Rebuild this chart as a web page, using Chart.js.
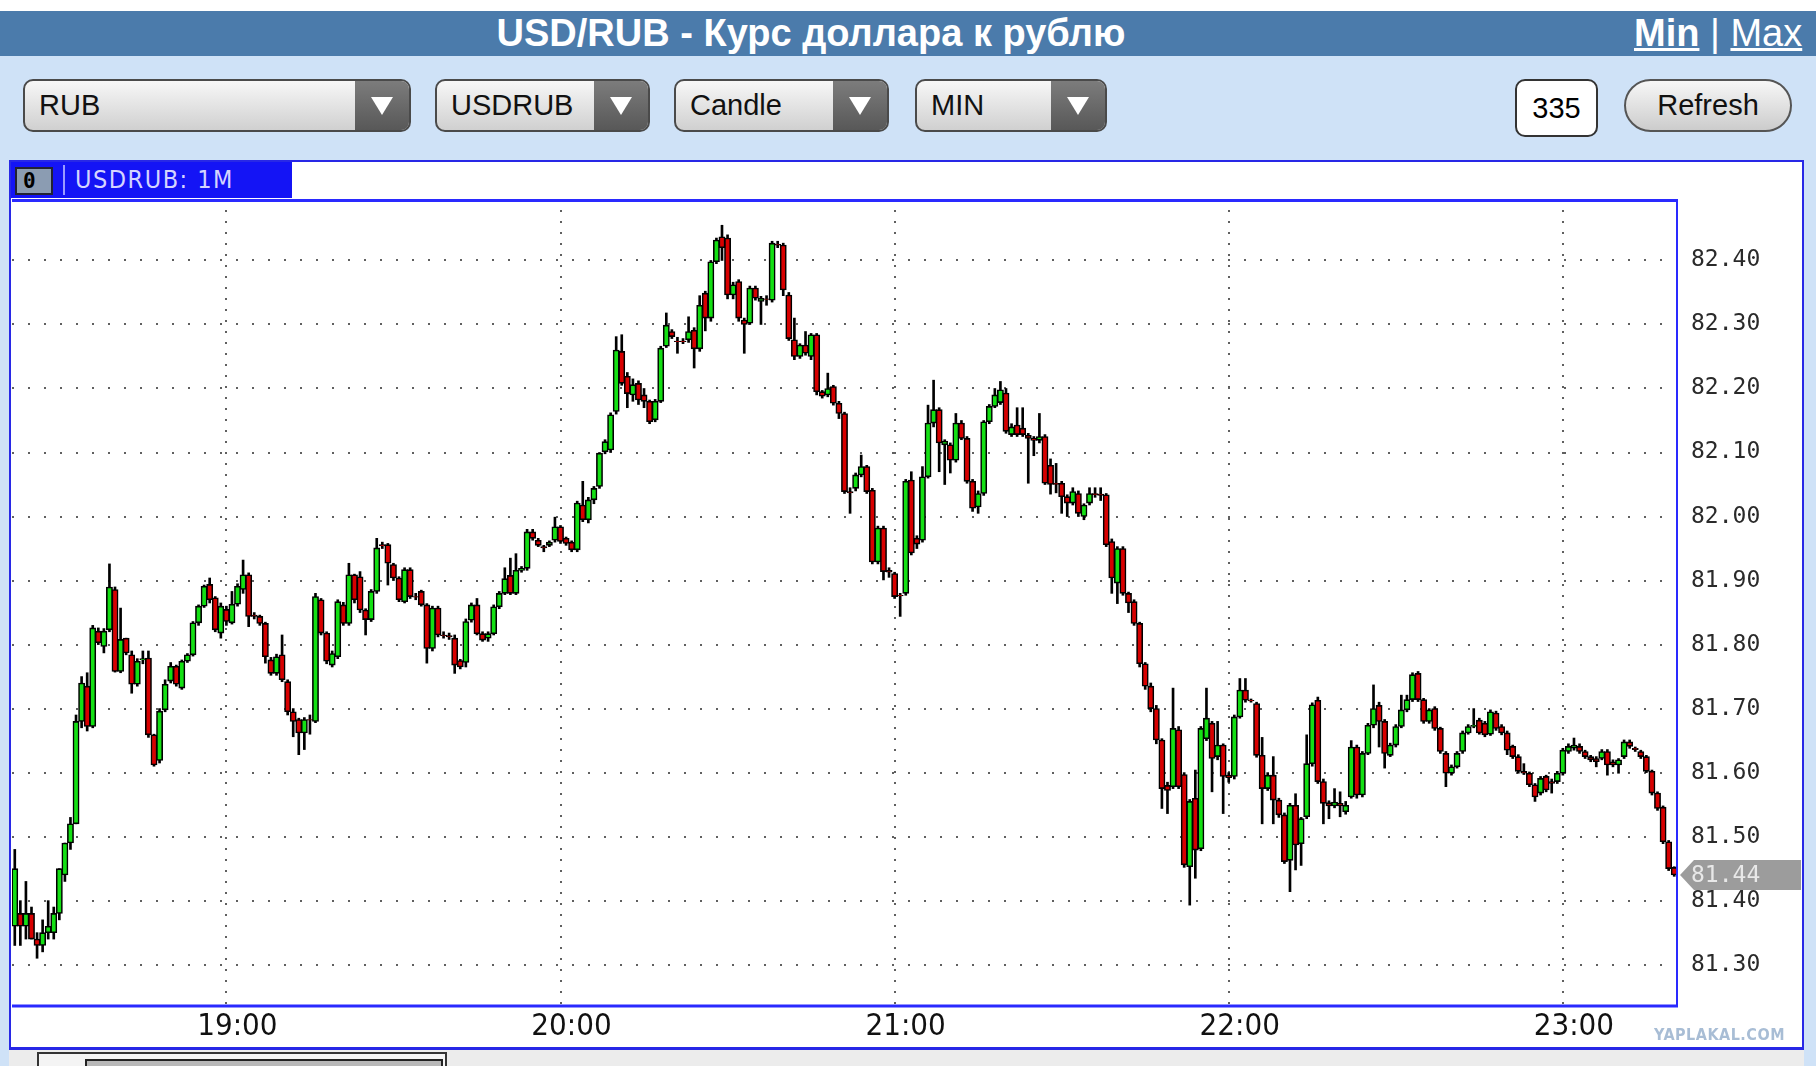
<!DOCTYPE html>
<html>
<head>
<meta charset="utf-8">
<title>USD/RUB</title>
<script src="https://cdn.jsdelivr.net/npm/chart.js@4.4.1/dist/chart.umd.min.js"></script>
<style>
  html, body { margin: 0; padding: 0; }
  body { width: 1816px; height: 1066px; background: #cfe2f7; position: relative; overflow: hidden;
         font-family: "Liberation Sans", Arial, sans-serif; }
  #topstrip { position: absolute; left: 0; top: 0; width: 1816px; height: 11px; background: #fff; }
  #titlebar { position: absolute; left: 0; top: 11px; width: 1816px; height: 45px; background: #4b7bab; }
  #title { position: absolute; left: 0; top: 0; width: 1622px; line-height: 45px; text-align: center;
           color: #fff; font-weight: bold; font-size: 38px; }
  #minmax { position: absolute; left: 1634px; top: 0; line-height: 45px; color: #fff; font-size: 38px; }
  #minmax span { text-decoration: underline; }
  .dd { position: absolute; top: 79px; height: 53px; box-sizing: border-box; border: 2px solid #4a4a4a;
        border-radius: 10px; background: linear-gradient(#f7f7f7, #d0d0d0); overflow: hidden; }
  .dd span { position: absolute; left: 14px; top: 0; line-height: 49px; font-size: 29px; color: #111; }
  .dd i { position: absolute; right: 0; top: 0; width: 54px; height: 100%; background: linear-gradient(#7c7c7c, #585858); }
  .dd i:after { content: ''; position: absolute; left: 16px; top: 16px; border-left: 11px solid transparent;
                border-right: 11px solid transparent; border-top: 18px solid #fff; }
  #count { position: absolute; left: 1515px; top: 79px; width: 83px; height: 58px; box-sizing: border-box;
           border: 2px solid #333; border-radius: 10px; background: #fff; text-align: center; line-height: 54px; font-size: 29px; }
  #refresh { position: absolute; left: 1624px; top: 79px; width: 168px; height: 53px; box-sizing: border-box;
             border: 2px solid #555; border-radius: 27px; background: linear-gradient(#f7f7f7, #cccccc);
             text-align: center; line-height: 49px; font-size: 29px; color: #111; }
  #panel { position: absolute; left: 9px; top: 160px; width: 1795px; height: 890px; box-sizing: border-box;
           border: 2px solid #2828e6; border-bottom-width: 3px; background: #fff; }
  #tab { position: absolute; left: 11px; top: 162px; width: 281px; height: 36px; background: #1414f5; }
  #tab .ico { position: absolute; left: 4px; top: 5px; width: 38px; height: 28px; box-sizing: border-box;
              background: #8b9cb2; border: 2px solid #223; font: bold 21px "DejaVu Sans Mono", monospace;
              line-height: 24px; padding-left: 6px; color: #000; }
  #tab .sep { position: absolute; left: 52px; top: 3px; width: 2px; height: 30px; background: #9a9aff; }
  #tab .lbl { position: absolute; left: 64px; top: 0; line-height: 36px; font-size: 25px; color: #d4d4ff;
              font-family: "DejaVu Sans Condensed", sans-serif; letter-spacing: 1.5px; }
  #chart { position: absolute; left: 12px; top: 199px; }
  #scrollzone { position: absolute; left: 9px; top: 1050px; width: 1795px; height: 16px; background: #ececec; }
  #thumb { position: absolute; left: 37px; top: 1052px; width: 410px; height: 20px; box-sizing: border-box;
           border: 2px solid #333; border-bottom: none; background: #f4f4f4; }
  #thumb div { position: absolute; left: 46px; top: 5px; width: 358px; height: 20px; box-sizing: border-box;
               background: #b8b8b8; border: 2px solid #222; }
  #wm { position: absolute; left: 1654px; top: 1025px; font: bold 16px "DejaVu Sans Condensed", sans-serif;
        color: #a8bdd5; letter-spacing: 0.5px; }
</style>
</head>
<body>
<div id="topstrip"></div>
<div id="titlebar">
  <div id="title">USD/RUB - Курс доллара к рублю</div>
  <div id="minmax"><span style="font-weight:bold">Min</span> | <span>Max</span></div>
</div>
<div class="dd" style="left:23px;width:388px"><span>RUB</span><i></i></div>
<div class="dd" style="left:435px;width:215px"><span>USDRUB</span><i></i></div>
<div class="dd" style="left:674px;width:215px"><span>Candle</span><i></i></div>
<div class="dd" style="left:915px;width:192px"><span>MIN</span><i></i></div>
<div id="count">335</div>
<div id="refresh">Refresh</div>
<div id="panel"></div>
<div id="tab"><div class="ico">0</div><div class="sep"></div><div class="lbl">USDRUB: 1M</div></div>
<canvas id="chart" width="1792" height="843"></canvas>
<div id="scrollzone"></div>
<div id="thumb"><div></div></div>
<div id="wm">YAPLAKAL.COM</div>

<script>
// one-minute candles, 18:22 .. 23:20
const startMinute = 18 * 60 + 22;

const open = [
  81.36, 81.38, 81.36, 81.38, 81.34, 81.33, 81.35, 81.35, 81.38, 81.44,
  81.49, 81.52, 81.68, 81.735, 81.672, 81.821, 81.797, 81.823, 81.886, 81.758,
  81.81, 81.784, 81.738, 81.776, 81.779, 81.659, 81.619, 81.698, 81.743, 81.766,
  81.732, 81.774, 81.784, 81.834, 81.86, 81.894, 81.873, 81.818, 81.855, 81.834,
  81.863, 81.886, 81.909, 81.846, 81.844, 81.833, 81.776, 81.755, 81.784, 81.742,
  81.695, 81.683, 81.662, 81.683, 81.68, 81.87, 81.818, 81.768, 81.781, 81.862,
  81.833, 81.909, 81.906, 81.854, 81.839, 81.883, 81.956, 81.956, 81.925, 81.904,
  81.867, 81.917, 81.875, 81.883, 81.862, 81.794, 81.857, 81.815, 81.814, 81.81,
  81.775, 81.772, 81.838, 81.862, 81.817, 81.81, 81.817, 81.859, 81.88, 81.908,
  81.88, 81.916, 81.919, 81.976, 81.963, 81.953, 81.955, 81.963, 81.984, 81.966,
  81.96, 81.948, 82.018, 81.995, 82.026, 82.047, 82.101, 82.104, 82.164, 82.258,
  82.219, 82.19, 82.208, 82.19, 82.18, 82.151, 82.18, 82.266, 82.289, 82.274,
  82.274, 82.276, 82.291, 82.262, 82.349, 82.31, 82.398, 82.437, 82.435, 82.346,
  82.367, 82.307, 82.302, 82.357, 82.336, 82.34, 82.338, 82.425, 82.424, 82.346,
  82.276, 82.25, 82.268, 82.25, 82.284, 82.195, 82.19, 82.203, 82.177, 82.161,
  82.039, 82.044, 82.065, 82.078, 82.041, 81.929, 81.982, 81.916, 81.911, 81.877,
  81.88, 82.057, 81.966, 81.963, 82.062, 82.146, 82.167, 82.112, 82.112, 82.088,
  82.146, 82.122, 82.055, 82.015, 82.036, 82.148, 82.172, 82.178, 82.193, 82.128,
  82.143, 82.138, 82.127, 82.122, 82.119, 82.125, 82.08, 82.052, 82.052, 82.031,
  82.021, 82.036, 82.0, 82.021, 82.036, 82.035, 82.034, 81.961, 81.896, 81.95,
  81.88, 81.867, 81.833, 81.77, 81.735, 81.70, 81.651, 81.58, 81.578, 81.667,
  81.597, 81.453, 81.56, 81.481, 81.653, 81.677, 81.625, 81.643, 81.596, 81.594,
  81.687, 81.729, 81.713, 81.708, 81.627, 81.575, 81.596, 81.557, 81.534, 81.463,
  81.549, 81.489, 81.531, 81.614, 81.713, 81.586, 81.553, 81.548, 81.552, 81.539,
  81.562, 81.64, 81.565, 81.63, 81.674, 81.705, 81.68, 81.627, 81.643, 81.672,
  81.698, 81.714, 81.755, 81.714, 81.68, 81.70, 81.669, 81.63, 81.599, 81.609,
  81.633, 81.662, 81.672, 81.682, 81.677, 81.66, 81.693, 81.672, 81.662, 81.641,
  81.625, 81.602, 81.599, 81.581, 81.568, 81.594, 81.586, 81.586, 81.599, 81.633,
  81.638, 81.641, 81.633, 81.625, 81.622, 81.622, 81.633, 81.617, 81.612, 81.625,
  81.648, 81.638, 81.633, 81.625, 81.602, 81.568, 81.546, 81.492, 81.452
];

const high = [
  81.48, 81.40, 81.43, 81.39, 81.35, 81.37, 81.40, 81.39, 81.45, 81.49,
  81.53, 81.69, 81.75, 81.756, 81.83, 81.826, 81.825, 81.926, 81.89, 81.857,
  81.81, 81.79, 81.778, 81.79, 81.79, 81.66, 81.70, 81.745, 81.772, 81.768,
  81.776, 81.786, 81.836, 81.862, 81.893, 81.904, 81.875, 81.865, 81.86, 81.883,
  81.895, 81.932, 81.912, 81.85, 81.846, 81.835, 81.78, 81.785, 81.815, 81.745,
  81.70, 81.685, 81.686, 81.69, 81.88, 81.872, 81.82, 81.79, 81.87, 81.866,
  81.927, 81.91, 81.914, 81.856, 81.886, 81.966, 81.96, 81.958, 81.927, 81.906,
  81.92, 81.92, 81.88, 81.885, 81.864, 81.86, 81.86, 81.82, 81.818, 81.815,
  81.777, 81.84, 81.865, 81.872, 81.82, 81.82, 81.862, 81.883, 81.92, 81.935,
  81.942, 81.922, 81.98, 81.98, 81.966, 81.955, 81.962, 81.999, 81.986, 81.968,
  81.962, 82.024, 82.055, 82.03, 82.047, 82.10, 82.12, 82.162, 82.281, 82.284,
  82.225, 82.215, 82.212, 82.20, 82.182, 82.183, 82.266, 82.318, 82.292, 82.28,
  82.278, 82.312, 82.295, 82.345, 82.352, 82.40, 82.435, 82.455, 82.44, 82.366,
  82.37, 82.31, 82.36, 82.36, 82.344, 82.345, 82.43, 82.43, 82.427, 82.35,
  82.31, 82.27, 82.289, 82.286, 82.286, 82.197, 82.224, 82.205, 82.18, 82.163,
  82.045, 82.068, 82.096, 82.08, 82.044, 81.985, 81.985, 81.92, 81.913, 81.88,
  82.058, 82.07, 81.97, 82.078, 82.174, 82.213, 82.17, 82.12, 82.115, 82.161,
  82.15, 82.125, 82.058, 82.04, 82.15, 82.175, 82.20, 82.211, 82.20, 82.145,
  82.17, 82.17, 82.13, 82.125, 82.161, 82.128, 82.09, 82.083, 82.055, 82.034,
  82.045, 82.04, 82.02, 82.045, 82.045, 82.045, 82.036, 81.965, 81.953, 81.953,
  81.882, 81.87, 81.835, 81.772, 81.74, 81.705, 81.653, 81.585, 81.732, 81.672,
  81.60, 81.558, 81.604, 81.672, 81.732, 81.68, 81.68, 81.645, 81.60, 81.69,
  81.747, 81.747, 81.715, 81.71, 81.655, 81.60, 81.625, 81.56, 81.537, 81.552,
  81.567, 81.53, 81.659, 81.709, 81.718, 81.59, 81.556, 81.575, 81.57, 81.555,
  81.65, 81.643, 81.633, 81.677, 81.737, 81.71, 81.683, 81.646, 81.675, 81.721,
  81.721, 81.756, 81.758, 81.716, 81.70, 81.703, 81.671, 81.633, 81.612, 81.633,
  81.665, 81.675, 81.70, 81.685, 81.68, 81.698, 81.696, 81.675, 81.665, 81.643,
  81.628, 81.614, 81.601, 81.583, 81.594, 81.596, 81.59, 81.602, 81.638, 81.645,
  81.654, 81.645, 81.635, 81.627, 81.625, 81.636, 81.636, 81.62, 81.622, 81.651,
  81.651, 81.64, 81.635, 81.627, 81.604, 81.57, 81.548, 81.494, 81.453
];

const low = [
  81.33, 81.33, 81.34, 81.34, 81.31, 81.32, 81.34, 81.34, 81.37, 81.43,
  81.48, 81.52, 81.67, 81.665, 81.67, 81.80, 81.787, 81.82, 81.757, 81.756,
  81.784, 81.724, 81.735, 81.77, 81.655, 81.61, 81.615, 81.695, 81.74, 81.735,
  81.73, 81.772, 81.782, 81.83, 81.858, 81.865, 81.82, 81.81, 81.83, 81.832,
  81.86, 81.88, 81.828, 81.84, 81.83, 81.771, 81.752, 81.752, 81.742, 81.69,
  81.656, 81.628, 81.636, 81.66, 81.678, 81.815, 81.77, 81.765, 81.778, 81.83,
  81.83, 81.865, 81.85, 81.815, 81.836, 81.88, 81.95, 81.893, 81.90, 81.867,
  81.865, 81.872, 81.87, 81.86, 81.771, 81.79, 81.812, 81.81, 81.808, 81.755,
  81.762, 81.765, 81.835, 81.815, 81.805, 81.805, 81.815, 81.856, 81.878, 81.878,
  81.878, 81.913, 81.916, 81.963, 81.953, 81.945, 81.953, 81.96, 81.958, 81.955,
  81.945, 81.945, 81.992, 81.99, 82.02, 82.044, 82.098, 82.10, 82.16, 82.205,
  82.17, 82.18, 82.175, 82.17, 82.145, 82.148, 82.178, 82.264, 82.278, 82.255,
  82.27, 82.272, 82.232, 82.258, 82.29, 82.305, 82.395, 82.40, 82.34, 82.34,
  82.305, 82.255, 82.30, 82.338, 82.30, 82.33, 82.335, 82.42, 82.345, 82.275,
  82.245, 82.247, 82.252, 82.245, 82.19, 82.185, 82.187, 82.174, 82.153, 82.036,
  82.005, 82.04, 82.062, 82.036, 81.926, 81.926, 81.901, 81.905, 81.872, 81.844,
  81.877, 81.94, 81.95, 81.96, 82.06, 82.14, 82.07, 82.05, 82.068, 82.085,
  82.12, 82.052, 82.008, 82.005, 82.033, 82.145, 82.17, 82.175, 82.13, 82.125,
  82.125, 82.125, 82.052, 82.095, 82.115, 82.05, 82.035, 82.037, 82.005, 82.0,
  82.018, 82.0, 81.995, 82.018, 82.03, 82.025, 81.953, 81.88, 81.864, 81.877,
  81.85, 81.83, 81.765, 81.73, 81.695, 81.645, 81.544, 81.536, 81.575, 81.575,
  81.452, 81.393, 81.435, 81.478, 81.65, 81.57, 81.62, 81.536, 81.585, 81.59,
  81.685, 81.71, 81.71, 81.624, 81.52, 81.572, 81.52, 81.53, 81.458, 81.414,
  81.448, 81.455, 81.528, 81.61, 81.583, 81.52, 81.528, 81.545, 81.531, 81.535,
  81.56, 81.56, 81.562, 81.628, 81.67, 81.64, 81.607, 81.625, 81.64, 81.67,
  81.695, 81.711, 81.711, 81.677, 81.677, 81.666, 81.63, 81.578, 81.596, 81.607,
  81.63, 81.66, 81.67, 81.66, 81.656, 81.658, 81.666, 81.659, 81.628, 81.622,
  81.599, 81.597, 81.578, 81.555, 81.565, 81.57, 81.568, 81.583, 81.596, 81.63,
  81.635, 81.63, 81.622, 81.617, 81.609, 81.62, 81.596, 81.609, 81.599, 81.622,
  81.638, 81.633, 81.622, 81.60, 81.565, 81.541, 81.489, 81.447, 81.438
];

const close = [
  81.45, 81.36, 81.38, 81.34, 81.33, 81.35, 81.36, 81.38, 81.45, 81.49,
  81.52, 81.68, 81.74, 81.672, 81.826, 81.803, 81.821, 81.89, 81.758, 81.808,
  81.787, 81.738, 81.774, 81.778, 81.659, 81.612, 81.696, 81.738, 81.766, 81.738,
  81.774, 81.784, 81.834, 81.86, 81.891, 81.87, 81.823, 81.86, 81.836, 81.863,
  81.891, 81.909, 81.844, 81.844, 81.833, 81.781, 81.755, 81.781, 81.745, 81.695,
  81.68, 81.662, 81.683, 81.682, 81.875, 81.818, 81.774, 81.786, 81.867, 81.833,
  81.909, 81.87, 81.854, 81.839, 81.883, 81.951, 81.954, 81.927, 81.904, 81.87,
  81.917, 81.875, 81.874, 81.862, 81.794, 81.857, 81.815, 81.814, 81.812, 81.768,
  81.765, 81.836, 81.862, 81.817, 81.807, 81.817, 81.859, 81.88, 81.903, 81.88,
  81.916, 81.919, 81.976, 81.966, 81.955, 81.951, 81.96, 81.984, 81.961, 81.958,
  81.948, 82.021, 81.995, 82.026, 82.044, 82.099, 82.117, 82.159, 82.26, 82.208,
  82.192, 82.206, 82.182, 82.18, 82.148, 82.18, 82.263, 82.299, 82.281, 82.273,
  82.273, 82.289, 82.262, 82.33, 82.31, 82.398, 82.432, 82.42, 82.346, 82.362,
  82.31, 82.30, 82.357, 82.341, 82.341, 82.339, 82.427, 82.424, 82.354, 82.278,
  82.25, 82.268, 82.255, 82.284, 82.195, 82.188, 82.20, 82.177, 82.161, 82.039,
  82.037, 82.065, 82.078, 82.039, 81.929, 81.982, 81.914, 81.913, 81.875, 81.876,
  82.055, 81.943, 81.957, 82.062, 82.146, 82.167, 82.115, 82.118, 82.088, 82.146,
  82.122, 82.055, 82.013, 82.036, 82.148, 82.172, 82.19, 82.198, 82.133, 82.14,
  82.128, 82.128, 82.122, 82.119, 82.125, 82.052, 82.05, 82.05, 82.031, 82.021,
  82.039, 82.005, 82.018, 82.036, 82.034, 82.033, 81.956, 81.904, 81.95, 81.88,
  81.865, 81.833, 81.77, 81.735, 81.70, 81.651, 81.575, 81.572, 81.669, 81.578,
  81.456, 81.555, 81.479, 81.669, 81.685, 81.622, 81.643, 81.594, 81.592, 81.687,
  81.729, 81.713, 81.712, 81.627, 81.575, 81.596, 81.557, 81.534, 81.461, 81.549,
  81.487, 81.528, 81.614, 81.706, 81.586, 81.552, 81.548, 81.554, 81.548, 81.549,
  81.64, 81.565, 81.63, 81.674, 81.70, 81.68, 81.63, 81.643, 81.672, 81.698,
  81.714, 81.753, 81.714, 81.68, 81.698, 81.669, 81.633, 81.599, 81.609, 81.63,
  81.662, 81.672, 81.674, 81.662, 81.659, 81.695, 81.669, 81.662, 81.635, 81.625,
  81.602, 81.599, 81.581, 81.562, 81.591, 81.573, 81.583, 81.599, 81.635, 81.641,
  81.643, 81.633, 81.625, 81.62, 81.617, 81.633, 81.612, 81.612, 81.62, 81.648,
  81.641, 81.636, 81.625, 81.602, 81.568, 81.544, 81.492, 81.45, 81.44
];

const hourTicks = ['19:00', '20:00', '21:00', '22:00', '23:00'];
const priceTicks = [81.3, 81.4, 81.5, 81.6, 81.7, 81.8, 81.9, 82.0, 82.1, 82.2, 82.3, 82.4];
const yMin = 81.237, yMax = 82.496;

const pad2 = n => String(n).padStart(2, '0');
const times = open.map((_, i) => {
  const m = startMinute + i;
  return pad2(Math.floor(m / 60)) + ':' + pad2(m % 60);
});

const upColor = '#14e014', downColor = '#d80000';
const monoFont = "'DejaVu Sans Mono', 'Liberation Mono', monospace";

// blue frame round the plot
const framePlugin = {
  id: 'frame',
  afterDraw(chart) {
    const { ctx, chartArea: a } = chart;
    ctx.save();
    ctx.strokeStyle = '#2a2aff';
    ctx.lineWidth = 3;
    ctx.beginPath();
    ctx.moveTo(a.left - 3, a.top + 1.5); ctx.lineTo(a.right + 1, a.top + 1.5);
    ctx.moveTo(a.left - 3, a.bottom + 1); ctx.lineTo(a.right + 1, a.bottom + 1);
    ctx.stroke();
    ctx.lineWidth = 2;
    ctx.beginPath();
    ctx.moveTo(a.right, a.top); ctx.lineTo(a.right, a.bottom);
    ctx.stroke();
    ctx.restore();
  }
};

// grey arrow tag with the last price
const lastPricePlugin = {
  id: 'lastPrice',
  afterDraw(chart) {
    const { ctx, chartArea: a } = chart;
    const last = close[close.length - 1];
    const y = chart.scales.y.getPixelForValue(last);
    const x0 = a.right + 3;
    ctx.save();
    ctx.fillStyle = '#9c9c9c';
    ctx.beginPath();
    ctx.moveTo(x0, y);
    ctx.lineTo(x0 + 14, y - 15);
    ctx.lineTo(x0 + 121, y - 15);
    ctx.lineTo(x0 + 121, y + 15);
    ctx.lineTo(x0 + 14, y + 15);
    ctx.closePath();
    ctx.fill();
    ctx.fillStyle = '#e8e8e8';
    ctx.font = '23px ' + monoFont;
    ctx.textBaseline = 'middle';
    ctx.fillText(last.toFixed(2), x0 + 11, y + 1);
    ctx.restore();
  }
};

const ctx = document.getElementById('chart').getContext('2d');
const chart = new Chart(ctx, {
  type: 'bar',
  data: {
    labels: times,
    datasets: [
      {
        label: 'USDRUB',
        data: open.map((o, i) => [o, close[i]]),
        backgroundColor: open.map((o, i) => close[i] >= o ? upColor : downColor),
        borderColor: '#000',
        borderWidth: 1.6,
        borderSkipped: false,
        barThickness: 6.2,
        grouped: false,
        order: 1
      },
      {
        label: 'wick',
        data: low.map((l, i) => [l, high[i]]),
        backgroundColor: '#000',
        borderWidth: 0,
        barThickness: 2,
        grouped: false,
        order: 2
      }
    ]
  },
  options: {
    responsive: false,
    animation: false,
    events: [],
    layout: { padding: 0 },
    plugins: {
      legend: { display: false },
      tooltip: { enabled: false }
    },
    scales: {
      x: {
        offset: true,
        grid: {
          offset: false,
          drawTicks: false,
          lineWidth: 2,
          color: c => (c.tick && hourTicks.includes(c.tick.label)) ? '#606060' : 'rgba(0,0,0,0)'
        },
        border: { display: false, dash: [2, 9] },
        ticks: {
          autoSkip: false,
          maxRotation: 0,
          padding: 3,
          labelOffset: 11,
          color: '#111',
          font: { family: "'Liberation Sans Narrow', 'DejaVu Sans Condensed', sans-serif", size: 31 },
          callback: (v, i) => hourTicks.includes(times[i]) ? times[i] : ''
        },
        afterFit: s => { s.height = 37; s.paddingLeft = 0; s.paddingRight = 0; }
      },
      y: {
        position: 'right',
        min: yMin,
        max: yMax,
        afterBuildTicks: s => { s.ticks = priceTicks.map(v => ({ value: v })); },
        grid: { drawTicks: false, lineWidth: 2, color: '#606060' },
        border: { display: false, dash: [2, 14] },
        ticks: {
          padding: 14,
          color: '#2a2a2a',
          font: { family: monoFont, size: 23 },
          callback: v => Number(v).toFixed(2)
        },
        afterFit: s => { s.width = 127; s.paddingTop = 0; s.paddingBottom = 0; }
      }
    }
  },
  plugins: [framePlugin, lastPricePlugin]
});
</script>
</body>
</html>
